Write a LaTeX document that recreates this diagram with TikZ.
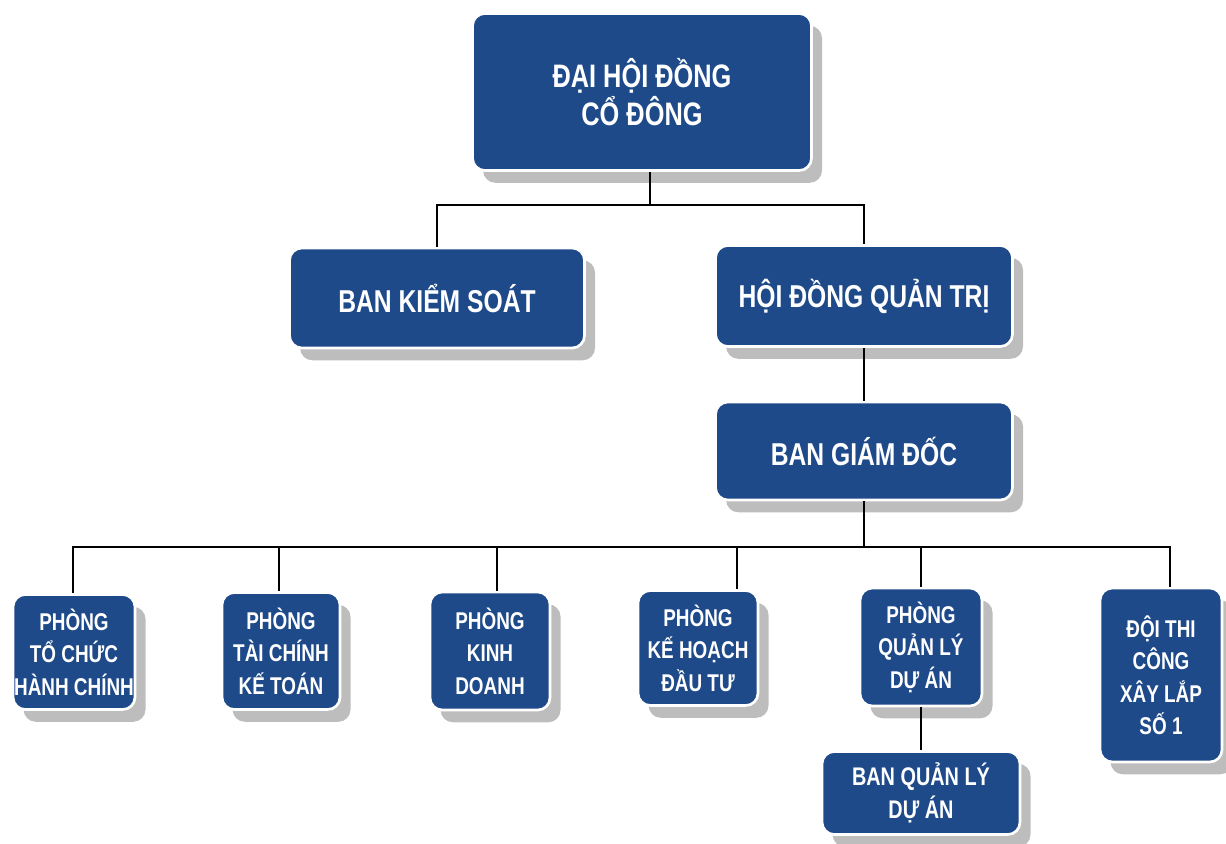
\documentclass[tikz,border=0pt]{standalone}
\usepackage{fontspec}
\setmainfont[FakeStretch=0.78]{Liberation Sans}
\usetikzlibrary{shadows}
\definecolor{navy}{RGB}{30,74,138}
\tikzset{
	box/.style={draw=white,line width=1.5pt,fill=navy,rounded corners=7pt,text=white,
		align=center,inner sep=0pt,
		drop shadow={shadow xshift=6pt,shadow yshift=-7pt,fill=gray!60,opacity=.85}},
	bigtxt/.style={font=\bfseries\fontsize{18}{22}\selectfont},
	smalltxt/.style={font=\bfseries\fontsize{13.8}{18.5}\selectfont},
	link/.style={line width=1.1pt,black}
}

\begin{document}
\begin{tikzpicture}[x=0.02cm,y=-0.02cm]
			\useasboundingbox (0,0) rectangle (1226,843);
			\node[box,bigtxt,font=\bfseries\fontsize{18.5}{22}\selectfont,minimum width=6.78cm,minimum height=3.14cm] (dhdcd) at (642,92) {ĐẠI HỘI ĐỒNG\\CỔ ĐÔNG};
			\node[box,bigtxt,minimum width=5.9cm,minimum height=2cm] (bks) at (437,298) {BAN KIỂM SOÁT};
			\node[box,bigtxt,minimum width=5.94cm,minimum height=2.02cm] (hdqt) at (864,296) {HỘI ĐỒNG QUẢN TRỊ};
			\node[box,bigtxt,minimum width=5.94cm,minimum height=1.96cm] (bgd) at (864,451) {BAN GIÁM ĐỐC};
			
			\node[box,smalltxt,minimum width=2.44cm,minimum height=2.3cm] (tchc) at (74,652) {PHÒNG\\TỔ CHỨC\\HÀNH CHÍNH};
			\node[box,smalltxt,minimum width=2.36cm,minimum height=2.34cm] (tckt) at (281,651) {PHÒNG\\TÀI CHÍNH\\KẾ TOÁN};
			\node[box,smalltxt,minimum width=2.4cm,minimum height=2.36cm] (kd) at (490,651) {PHÒNG\\KINH\\DOANH};
			\node[box,smalltxt,minimum width=2.4cm,minimum height=2.3cm] (khdt) at (698,648) {PHÒNG\\KẾ HOẠCH\\ĐẦU TƯ};
			\node[box,smalltxt,minimum width=2.44cm,minimum height=2.36cm] (qlda) at (921,647) {PHÒNG\\QUẢN LÝ\\DỰ ÁN};
			\node[box,smalltxt,minimum width=2.44cm,minimum height=3.48cm] (dtc) at (1161,675) {ĐỘI THI\\CÔNG\\XÂY LẮP\\SỐ 1};
			\node[box,smalltxt,font=\bfseries\fontsize{14.5}{19}\selectfont,minimum width=3.96cm,minimum height=1.66cm] (bqlda) at (921,793) {BAN QUẢN LÝ\\DỰ ÁN};
			
			\coordinate (j1) at (650,205);
			\coordinate (j2) at (864,547);
			\draw[link] (dhdcd.south -| j1) -- (j1);
			\draw[link] (bks.north) |- (j1) -| (hdqt.north);
			\draw[link] (hdqt) -- (bgd);
			\draw[link] (bgd) -- (j2);
			\foreach \n/\x in {tchc/73,tckt/279,kd/497,khdt/737,qlda/921,dtc/1170}{
				\draw[link] (\n.north -| \x,0) |- (j2);
			}
			\draw[link] (qlda) -- (bqlda);
\end{tikzpicture}
\end{document}
